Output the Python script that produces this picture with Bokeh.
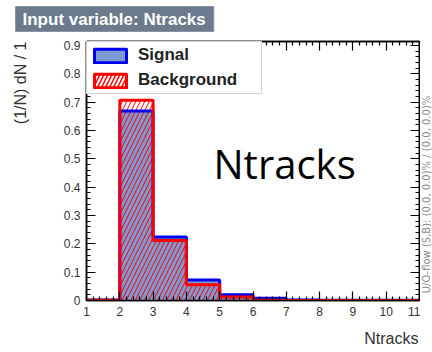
import numpy as np
from bokeh.plotting import figure
from bokeh.layouts import row, column
from bokeh.models import (FixedTicker, LinearAxis, Range1d, Label, Legend, LegendItem)
from bokeh.embed import file_html
from bokeh.resources import INLINE

# ---- data ----
bin_edges = [1, 2, 3, 4, 5, 6, 7, 8, 9, 10, 11]
signal = [0.002, 0.669, 0.224, 0.072, 0.020, 0.008, 0.002, 0.001, 0.001, 0.001]
background = [0.001, 0.707, 0.212, 0.056, 0.012, 0.001, 0.0, 0.0, 0.0, 0.0]
x_ticks = [1, 2, 3, 4, 5, 6, 7, 8, 9, 10, 11]
x_tick_labels = ["1", "2", "3", "4", "5", "6", "7", "8", "9", "10", "11"]
y_ticks = [0, 0.1, 0.2, 0.3, 0.4, 0.5, 0.6, 0.7, 0.8, 0.9]
y_tick_labels = ["0", "0.1", "0.2", "0.3", "0.4", "0.5", "0.6", "0.7", "0.8", "0.9"]
title_text = "Input variable: Ntracks"
y_label = "(1/N) dN / 1"
x_label = "Ntracks"
overflow_text = "U/O-flow (S,B): (0.0, 0.0)% / (0.0, 0.0)%"
big_text = "Ntracks"

SIG_FILL = "#7d99d1"
SIG_LINE = "#0000ee"
BKG_LINE = "#ff0000"
FONT = "Liberation Sans"


def blank_fig(w, h):
    f = figure(width=w, height=h, output_backend="svg", toolbar_location=None,
               x_range=Range1d(0, 1), y_range=Range1d(0, 1),
               min_border=0, x_axis_location=None, y_axis_location=None)
    f.grid.visible = False
    f.outline_line_color = None
    f.background_fill_color = "white"
    f.border_fill_color = "white"
    return f


# ---- header strip (432 x 36) ----
header = blank_fig(432, 36)
header.add_layout(Label(x=15, y=30, x_units="screen", y_units="screen", text=title_text,
                        text_font=FONT, text_font_size="17px", text_font_style="bold",
                        text_color="white", text_align="left", text_baseline="top",
                        background_fill_color="#6b7a8c", border_line_color="#8796a6",
                        padding=dict(left=7, right=8, top=3, bottom=3)))

# ---- left strip with y title (30 x 290) ----
left = blank_fig(30, 290)
left.add_layout(Label(x=20, y=259, x_units="screen", y_units="screen", text=y_label,
                      angle=np.pi / 2, text_font=FONT, text_font_size="16px",
                      text_color="#333333", text_align="right", text_baseline="middle"))

# ---- right strip with overflow note (12 x 290) ----
right = blank_fig(12, 290)
right.add_layout(Label(x=6, y=106, x_units="screen", y_units="screen", text=overflow_text,
                       angle=np.pi / 2, text_font="DejaVu Sans", text_font_size="10px",
                       text_color="#8a8a8a", text_align="center", text_baseline="middle"))

# ---- footer strip with x title (432 x 26) ----
footer = blank_fig(432, 26)
footer.add_layout(Label(x=418, y=14, x_units="screen", y_units="screen", text=x_label,
                        text_font=FONT, text_font_size="16px",
                        text_color="#333333", text_align="right", text_baseline="middle"))

# ---- main plot (390 x 290) ----
p = figure(width=390, height=290, output_backend="svg", toolbar_location=None,
           x_range=Range1d(1, 11), y_range=Range1d(0, 0.914),
           min_border_left=56, min_border_right=1, min_border_top=5, min_border_bottom=26,
           x_axis_location=None, y_axis_location=None)
p.grid.visible = False
p.outline_line_color = "black"
p.outline_line_width = 1.5
p.background_fill_color = "white"
p.border_fill_color = "white"

left_edges = bin_edges[:-1]
right_edges = bin_edges[1:]

p.quad(left=left_edges, right=right_edges, bottom=0, top=signal,
       fill_color=SIG_FILL, line_color=None)
p.quad(left=left_edges, right=right_edges, bottom=0, top=background,
       fill_alpha=0, line_color=None, hatch_pattern="/", hatch_color=BKG_LINE,
       hatch_scale=9, hatch_weight=1)
p.step(x=bin_edges, y=signal + [signal[-1]], mode="after", line_color=SIG_LINE, line_width=3)
p.step(x=bin_edges, y=background + [background[-1]], mode="after", line_color=BKG_LINE, line_width=3)

# legend-only renderers (no visible data)
nan1 = np.array([np.nan])
sig_leg = p.quad(left=nan1, right=nan1, bottom=nan1, top=nan1, fill_color=SIG_FILL,
                 line_color=SIG_LINE, line_width=3, line_join="round")
bkg_leg = p.quad(left=nan1, right=nan1, bottom=nan1, top=nan1, fill_color="white",
                 hatch_pattern="/", hatch_color=BKG_LINE, hatch_scale=8, hatch_weight=1.5,
                 line_color=BKG_LINE, line_width=3, line_join="round")
legend = Legend(items=[LegendItem(label="Signal", renderers=[sig_leg]),
                       LegendItem(label="Background", renderers=[bkg_leg])],
                location="top_left", margin=0, padding=3, spacing=5,
                glyph_width=40, glyph_height=17, label_height=17, label_width=120,
                label_standoff=8, label_text_font=FONT, label_text_font_size="17px",
                label_text_font_style="bold", label_text_color="#222222",
                border_line_color="#9aa8b6", border_line_width=1.5,
                background_fill_color="white", background_fill_alpha=1)
p.add_layout(legend, "center")


def style_axis(ax, ticks, labels, show_labels):
    minor = []
    for a, b in zip(ticks[:-1], ticks[1:]):
        minor += list(np.linspace(a, b, 6)[1:-1])
    ax.ticker = FixedTicker(ticks=ticks, minor_ticks=minor)
    ax.major_label_overrides = {t: l for t, l in zip(ticks, labels)}
    ax.axis_line_color = "black"
    ax.axis_line_width = 1.5
    ax.major_tick_in = 9
    ax.major_tick_out = 0
    ax.minor_tick_in = 4
    ax.minor_tick_out = 0
    ax.major_tick_line_color = "black"
    ax.minor_tick_line_color = "black"
    ax.major_tick_line_width = 1.2
    ax.minor_tick_line_width = 1.2
    ax.major_label_text_font = FONT
    ax.major_label_text_font_size = "12px"
    ax.major_label_text_color = "#333333"
    ax.major_label_standoff = 6
    if not show_labels:
        ax.major_label_text_alpha = 0
        ax.major_label_text_font_size = "1px"
        ax.major_label_standoff = 0


xb = LinearAxis(); style_axis(xb, x_ticks, x_tick_labels, True); p.add_layout(xb, "below")
xt = LinearAxis(); style_axis(xt, x_ticks, x_tick_labels, False); p.add_layout(xt, "above")
yl = LinearAxis(); style_axis(yl, y_ticks, y_tick_labels, True); p.add_layout(yl, "left")
yr = LinearAxis(); style_axis(yr, y_ticks, y_tick_labels, False); p.add_layout(yr, "right")

p.add_layout(Label(x=127, y=137, x_units="screen", y_units="screen", text=big_text,
                   text_font="Open Sans", text_font_size="40px",
                   text_color="black", text_align="left", text_baseline="alphabetic"))

layout = column(header, row(left, p, right, spacing=0), footer, spacing=0)

open("out.html", "w").write(file_html(layout, INLINE))
